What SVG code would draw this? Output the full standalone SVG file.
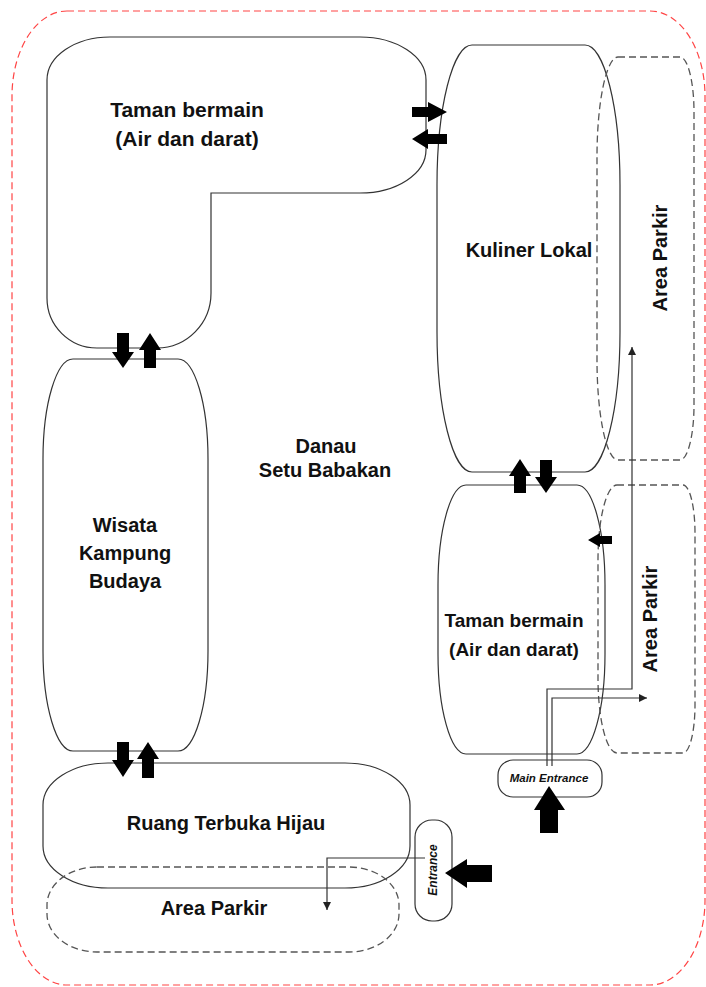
<svg xmlns="http://www.w3.org/2000/svg" width="706" height="987" viewBox="0 0 706 987">
<style>
.bg{fill:#ffffff}
.border{fill:none;stroke:#ff4444;stroke-width:1.2;stroke-dasharray:7 4}
.zone{fill:none;stroke:#333333;stroke-width:1.2}
.park{fill:none;stroke:#555555;stroke-width:1.3;stroke-dasharray:7 4}
.lbl{font-family:"Liberation Sans",Arial,sans-serif;font-weight:bold;fill:#111111;text-anchor:middle}
.ent{font-family:"Liberation Sans",Arial,sans-serif;font-weight:bold;font-style:italic;fill:#111111;text-anchor:middle}
.blk{fill:#000000;stroke:none}
.thin{fill:none;stroke:#333333;stroke-width:1.2}
</style>
<defs>
<marker id="ah" viewBox="0 0 10 10" refX="10" refY="5" markerWidth="9" markerHeight="8" markerUnits="userSpaceOnUse" orient="auto">
<path d="M0,0 L10,5 L0,10 Z" fill="#222222"/>
</marker>
</defs>
<rect class="bg" x="0" y="0" width="706" height="987"/>
<rect id="site-border" class="border" x="12" y="11" width="693" height="974" rx="55" ry="85"/>

<g id="taman-bermain-1">
<path class="zone" d="M110,37 H360 A66,43 0 0 1 426,80 V150 A66,43 0 0 1 360,193 H211 V293 A54,55 0 0 1 157,348 H97 A50,50 0 0 1 47,298 V80 A63,43 0 0 1 110,37 Z"/>
<text class="lbl" x="187" y="117" font-size="21">Taman bermain</text>
<text class="lbl" x="187" y="146" font-size="21">(Air dan darat)</text>
</g>

<g id="kuliner-lokal">
<rect class="zone" x="437" y="45" width="183" height="427" rx="35" ry="140"/>
<text class="lbl" x="529" y="257" font-size="20">Kuliner Lokal</text>
</g>

<g id="area-parkir-1">
<path class="park" d="M618,57 H680 A14,55 0 0 1 694,112 V405 A14,55 0 0 1 680,460 H618 A21,100 0 0 1 597,360 V157 A21,100 0 0 1 618,57 Z"/>
<text class="lbl" font-size="20" transform="translate(667,258) rotate(-90)">Area Parkir</text>
</g>

<g id="wisata-kampung-budaya">
<rect class="zone" x="43" y="359" width="165" height="392" rx="30" ry="100"/>
<text class="lbl" x="125" y="532" font-size="20">Wisata</text>
<text class="lbl" x="125" y="560" font-size="20">Kampung</text>
<text class="lbl" x="125" y="588" font-size="20">Budaya</text>
</g>

<g id="danau">
<text class="lbl" x="326" y="453" font-size="20">Danau</text>
<text class="lbl" x="325" y="477" font-size="20">Setu Babakan</text>
</g>

<g id="taman-bermain-2">
<rect class="zone" x="438" y="485" width="167" height="269" rx="28" ry="100"/>
<text class="lbl" x="514" y="627" font-size="19">Taman bermain</text>
<text class="lbl" x="514" y="656" font-size="19">(Air dan darat)</text>
</g>

<g id="area-parkir-2">
<path class="park" d="M617,485 H683 A12,48 0 0 1 695,533 V705 A12,48 0 0 1 683,753 H617 A19,75 0 0 1 598,678 V560 A19,75 0 0 1 617,485 Z"/>
<text class="lbl" font-size="20" transform="translate(657,619) rotate(-90)">Area Parkir</text>
</g>

<g id="ruang-terbuka-hijau">
<rect class="zone" x="43" y="763" width="367" height="125" rx="65" ry="42"/>
<text class="lbl" x="226" y="830" font-size="20">Ruang Terbuka Hijau</text>
</g>

<g id="area-parkir-3">
<rect class="park" x="47" y="867" width="352" height="85" rx="50" ry="38"/>
<text class="lbl" x="214" y="915" font-size="20">Area Parkir</text>
</g>

<g id="entrance">
<rect class="zone" x="415" y="820" width="37" height="101" rx="17" ry="17"/>
<text class="ent" font-size="12" transform="translate(437,870) rotate(-90)">Entrance</text>
</g>

<g id="main-entrance">
<rect class="zone" x="498" y="760" width="104" height="37" rx="15" ry="15"/>
<text class="ent" x="549" y="782" font-size="11.5">Main Entrance</text>
</g>

<g id="connectors">
<polygon class="blk" points="412,107 428,107 428,102 447,112 428,122 428,117 412,117"/>
<polygon class="blk" points="447,134 428,134 428,129 412,139 428,149 428,144 447,144"/>
<polygon class="blk" points="117,333 129,333 129,352 134,352 123,368 112,352 117,352"/>
<polygon class="blk" points="150,333 161,350 156,350 156,368 144,368 144,350 139,350"/>
<polygon class="blk" points="117,742 129,742 129,760 134,760 123,777 112,760 117,760"/>
<polygon class="blk" points="148,742 159,759 154,759 154,778 142,778 142,759 137,759"/>
<polygon class="blk" points="520,459 531,476 526,476 526,493 514,493 514,476 509,476"/>
<polygon class="blk" points="540,460 552,460 552,477 557,477 546,493 535,477 540,477"/>
<polygon class="blk" points="612,536 600,536 600,533 588,540 600,547 600,544 612,544"/>
<polygon class="blk" points="492,865 467,865 467,859 445,873 467,888 467,882 492,882"/>
<polygon class="blk" points="549,786 565,810 558,810 558,833 540,833 540,810 534,810"/>
<path class="thin" d="M547,766 V689 H632 V347" marker-end="url(#ah)"/>
<path class="thin" d="M552,766 V698 H647" marker-end="url(#ah)"/>
<path class="thin" d="M425,858 H327 V910" marker-end="url(#ah)"/>
</g>
</svg>
